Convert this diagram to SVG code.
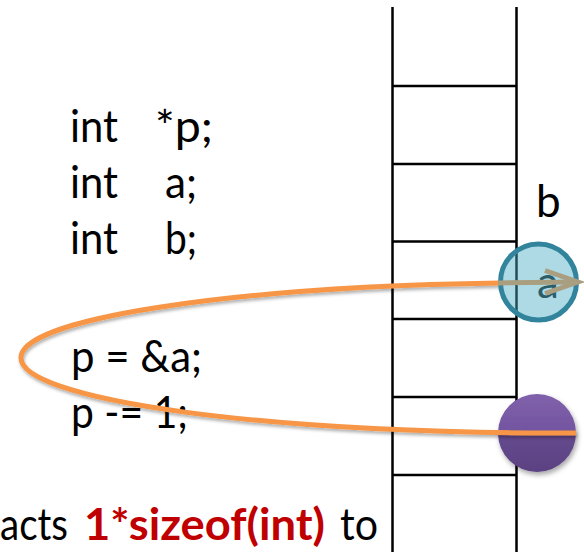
<svg xmlns="http://www.w3.org/2000/svg" width="584" height="552" viewBox="0 0 584 552">
  <style>
    .code { font-family: Lato, "Liberation Sans", sans-serif; font-size: 44px; fill: #000; }
    .grid { stroke: #000; stroke-width: 2.5; fill: none; }
    .red { fill: #c00000; font-weight: bold; }
  </style>
  <defs>
    <linearGradient id="purple" x1="0" y1="0" x2="0" y2="1">
      <stop offset="0" stop-color="#8161ab"/>
      <stop offset="0.5" stop-color="#7254a0"/>
      <stop offset="0.52" stop-color="#654a8e"/>
      <stop offset="1" stop-color="#5b4282"/>
    </linearGradient>
    <filter id="shadow" x="-20%" y="-20%" width="140%" height="150%">
      <feDropShadow dx="1.5" dy="3" stdDeviation="2.5" flood-color="#000" flood-opacity="0.35"/>
    </filter>
    <filter id="lineShadow" x="-5%" y="-20%" width="110%" height="140%">
      <feDropShadow dx="1" dy="2.5" stdDeviation="1.5" flood-color="#000" flood-opacity="0.3"/>
    </filter>
  </defs>

  <g id="stack">
    <path class="grid" d="M392.5 7 V552 M516.5 7 V552"/>
    <path class="grid" d="M392.5 86 H516.5 M392.5 164 H516.5 M392.5 241.5 H516.5 M392.5 319 H516.5 M392.5 397 H516.5 M392.5 475 H516.5"/>
  </g>

  <g id="code">
    <text class="code" y="142"><tspan x="70" textLength="48" lengthAdjust="spacingAndGlyphs">int</tspan><tspan x="155" textLength="58" lengthAdjust="spacingAndGlyphs">*p;</tspan></text>
    <text class="code" y="198"><tspan x="70" textLength="48" lengthAdjust="spacingAndGlyphs">int</tspan><tspan x="165" textLength="32" lengthAdjust="spacingAndGlyphs">a;</tspan></text>
    <text class="code" y="254"><tspan x="70" textLength="48" lengthAdjust="spacingAndGlyphs">int</tspan><tspan x="165" textLength="32" lengthAdjust="spacingAndGlyphs">b;</tspan></text>
    <text class="code" x="71" y="372" xml:space="preserve" textLength="131" lengthAdjust="spacingAndGlyphs">p = &amp;a;</text>
    <text class="code" x="71" y="428" xml:space="preserve" textLength="117" lengthAdjust="spacingAndGlyphs">p -= 1;</text>
    <text class="code" y="540"><tspan x="0" textLength="68" lengthAdjust="spacingAndGlyphs">acts</tspan><tspan class="red" x="84" textLength="241" lengthAdjust="spacingAndGlyphs">1*sizeof(int)</tspan><tspan x="340" textLength="38" lengthAdjust="spacingAndGlyphs">to</tspan></text>
  </g>

  <g id="node-b">
    <text class="code" x="536" y="217">b</text>
  </g>

  <g id="node-purple">
    <circle cx="537" cy="433" r="39" fill="url(#purple)" filter="url(#shadow)"/>
  </g>

  <g id="connectors">
    <path d="M576 433 A534 75 0 0 1 21 358 A534 75 0 0 1 500 283" fill="none" stroke="#f79646" stroke-width="5" filter="url(#lineShadow)"/>
  </g>

  <g id="node-a">
    <circle cx="538.5" cy="282" r="38" fill="#4bacc6" fill-opacity="0.45" stroke="#31849b" stroke-width="5"/>
    <text class="code" x="548" y="298" text-anchor="middle" style="fill:#2b5d69">a</text>
  </g>

  <g id="arrow">
    <path d="M498 283 L576 282" fill="none" stroke="#a99f80" stroke-width="5"/>
    <path d="M545 270.5 L578 282 L545 293.5" fill="none" stroke="#a99f80" stroke-width="5" stroke-linejoin="miter"/>
  </g>
</svg>
